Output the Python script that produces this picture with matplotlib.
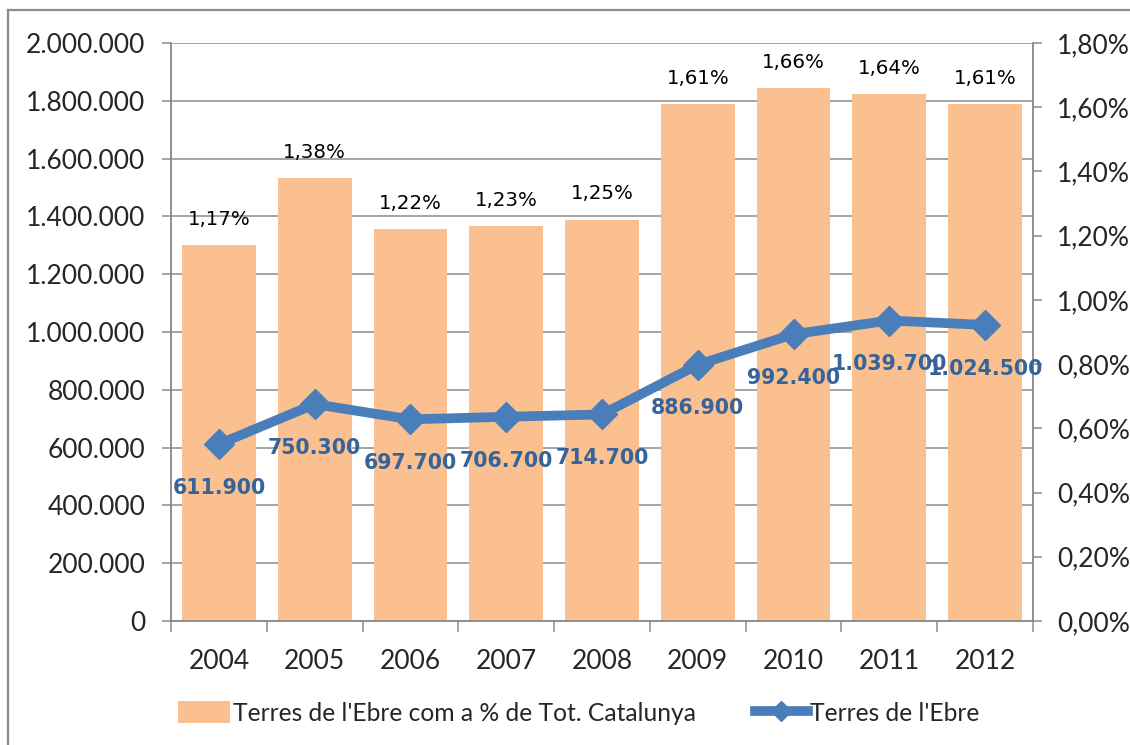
import matplotlib.pyplot as plt
from matplotlib.lines import Line2D
from matplotlib.patches import Patch
import numpy as np

years = ['2004', '2005', '2006', '2007', '2008', '2009', '2010', '2011', '2012']
pct = [1.17, 1.38, 1.22, 1.23, 1.25, 1.61, 1.66, 1.64, 1.61]
pop = [611900, 750300, 697700, 706700, 714700, 886900, 992400, 1039700, 1024500]

left_ticks = np.arange(0, 2000001, 200000)
right_ticks = np.arange(0, 1.81, 0.2)

bar_col = '#FAC090'
line_col = '#4A7EBB'
lab_col = '#35649A'
grid_col = '#8C8C8C'
txt_col = '#262626'

def thous(v):
    return '{:,.0f}'.format(v).replace(',', '.')

def pctfmt(v):
    return '{:.2f}%'.format(v).replace('.', ',')

fig = plt.figure(figsize=(11.3, 7.45), dpi=100)
ax = fig.add_axes([171/1130, 1-621/745, 862/1130, 578/745])
ax2 = ax.twinx()
ax.set_zorder(ax2.get_zorder() + 1)
ax.patch.set_visible(False)

x = np.arange(len(years))

# grid follows left axis, drawn behind the bars
for g in left_ticks:
    ax2.axhline(g / 2000000 * 1.8, color=grid_col, lw=1.1, zorder=0)

ax2.bar(x, pct, width=0.77, color=bar_col, zorder=2)
for xi, p in zip(x, pct):
    ax2.annotate(pctfmt(p), (xi, p), xytext=(0, 18.5), textcoords='offset points',
                 ha='center', va='center', fontsize=14.2, color='black',
                 family='DejaVu Sans')

ax.plot(x, pop, color=line_col, lw=7, marker='D', ms=15, zorder=5)
for xi, v in zip(x, pop):
    ax.annotate(thous(v), (xi, v), xytext=(0, -31.5), textcoords='offset points',
                ha='center', va='center', fontsize=14.8, color=lab_col,
                fontweight='bold', family='DejaVu Sans', zorder=6)

ax.set_xlim(-0.5, len(years) - 0.5)
ax.set_ylim(0, 2000000)
ax2.set_ylim(0, 1.8)

ax.set_yticks(left_ticks)
ax.set_yticklabels([thous(v) for v in left_ticks])
ax2.set_yticks(right_ticks)
ax2.set_yticklabels([pctfmt(v) for v in right_ticks])

ax.set_xticks(np.arange(-0.5, len(years), 1.0))
ax.set_xticklabels([])
ax.set_xticks(x, minor=True)
ax.set_xticklabels(years, minor=True)
ax.tick_params(axis='x', which='major', length=8, color=grid_col, width=1.1)
ax.tick_params(axis='x', which='minor', length=0, pad=20, labelsize=19,
               labelcolor=txt_col)
ax.tick_params(axis='y', length=6.5, color=grid_col, width=1.1, pad=12,
               labelsize=19, labelcolor=txt_col)
ax2.tick_params(axis='y', length=6.5, color=grid_col, width=1.1, pad=11,
                labelsize=19, labelcolor=txt_col)
for lbl in ax.get_xticklabels(minor=True) + ax.get_yticklabels() + ax2.get_yticklabels():
    lbl.set_family('Lato')

for a in (ax, ax2):
    a.spines['top'].set_visible(False)
    for s in ('left', 'right', 'bottom'):
        a.spines[s].set_color(grid_col)
        a.spines[s].set_linewidth(1.1)

handles = [Patch(facecolor=bar_col, edgecolor='none'),
           Line2D([0], [0], color=line_col, lw=7, marker='D', ms=10)]
labels = ["Terres de l'Ebre com a % de Tot. Catalunya", "Terres de l'Ebre"]
fig.legend(handles, labels, loc='center', bbox_to_anchor=(0.512, 1-713/745),
           ncol=2, frameon=False, handlelength=2.15, handleheight=1.0,
           handletextpad=0.1, columnspacing=2.4,
           prop={'family': 'Lato', 'size': 17.7}, labelcolor=txt_col)

fig.add_artist(Line2D([8/1130, 1], [1-10/745, 1-10/745], transform=fig.transFigure,
                      color='#8C8C8C', lw=1.6))
fig.add_artist(Line2D([8/1130, 8/1130], [0, 1-10/745], transform=fig.transFigure,
                      color='#8C8C8C', lw=1.6))

fig.savefig('out.png', dpi=100)
